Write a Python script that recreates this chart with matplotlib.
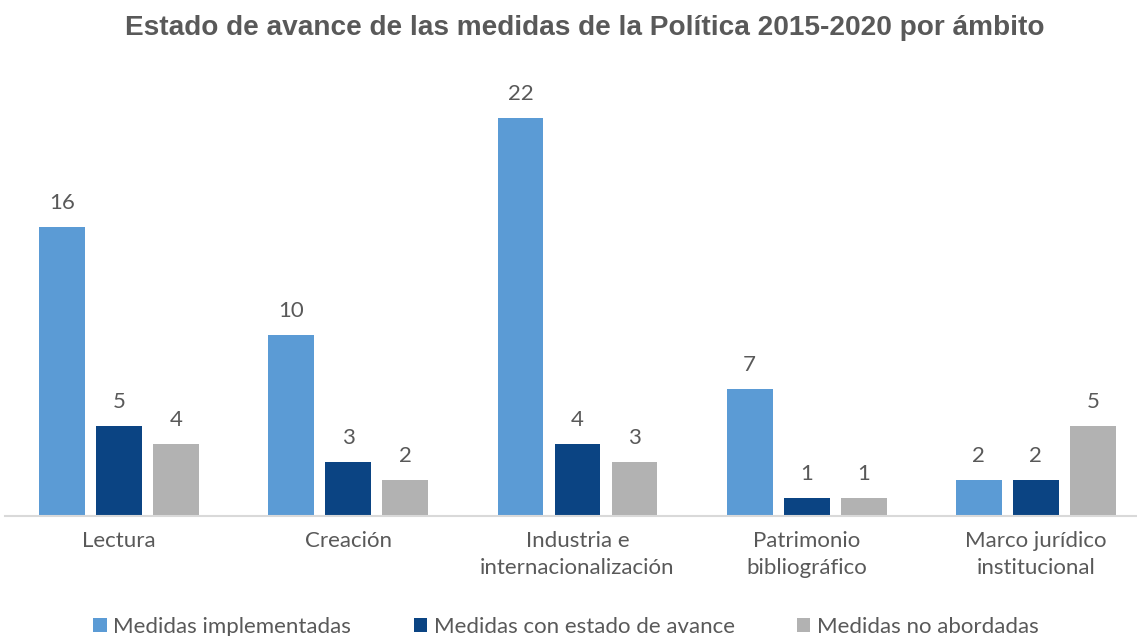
import numpy as np
import matplotlib
matplotlib.use("Agg")
import matplotlib.pyplot as plt

ambitos = ["Lectura", "Creación", "Industria e\ninternacionalización",
           "Patrimonio\nbibliográfico", "Marco jurídico\ninstitucional"]
implementadas = [16, 10, 22, 7, 2]
con_avance = [5, 3, 4, 1, 2]
no_abordadas = [4, 2, 3, 1, 5]

series = [
    ("Medidas implementadas", implementadas, "#5B9BD5"),
    ("Medidas con estado de avance", con_avance, "#0B4483"),
    ("Medidas no abordadas", no_abordadas, "#B2B2B2"),
]

plt.rcParams["font.family"] = ["Lato", "DejaVu Sans"]
gris = "#595959"

fig = plt.figure(figsize=(11.37, 6.36), dpi=100)
ax = fig.add_axes([4.5 / 1137, 120 / 636, 1146 / 1137, 436 / 636])

x = np.arange(len(ambitos))
paso = 0.249
ancho = 0.2
for i, (nombre, vals, color) in enumerate(series):
    pos = x + (i - 1) * paso
    barras = ax.bar(pos, vals, ancho, color=color, label=nombre)
    for b, v in zip(barras, vals):
        ax.annotate(str(v), (b.get_x() + b.get_width() / 2, v),
                    xytext=(0, 10), textcoords="offset points",
                    ha="center", va="bottom", fontsize=16, color=gris)

ax.set_xlim(-0.5, 4.5)
ax.set_ylim(0, 24.1)
ax.set_xticks(x)
ax.set_xticklabels(ambitos, fontsize=16, color=gris, linespacing=1.45)
ax.tick_params(axis="x", length=0, pad=11)
ax.set_yticks([])
for s in ["top", "right", "left"]:
    ax.spines[s].set_visible(False)
ax.spines["bottom"].set_color("#D9D9D9")
ax.spines["bottom"].set_linewidth(1.5)

fig.suptitle("Estado de avance de las medidas de la Política 2015-2020 por ámbito",
             x=585 / 1137, y=1 - 28 / 636, va="center", fontsize=20.2, fontweight="bold",
             color=gris, family=["Liberation Sans", "DejaVu Sans"])

leg = fig.legend(loc="center", bbox_to_anchor=(566 / 1137, 1 - 627 / 636), ncol=3,
                 frameon=False, fontsize=16, handlelength=0.6, handleheight=0.6,
                 handletextpad=0.3, columnspacing=2.8)
for t in leg.get_texts():
    t.set_color(gris)

fig.savefig("out.png", dpi=100)
